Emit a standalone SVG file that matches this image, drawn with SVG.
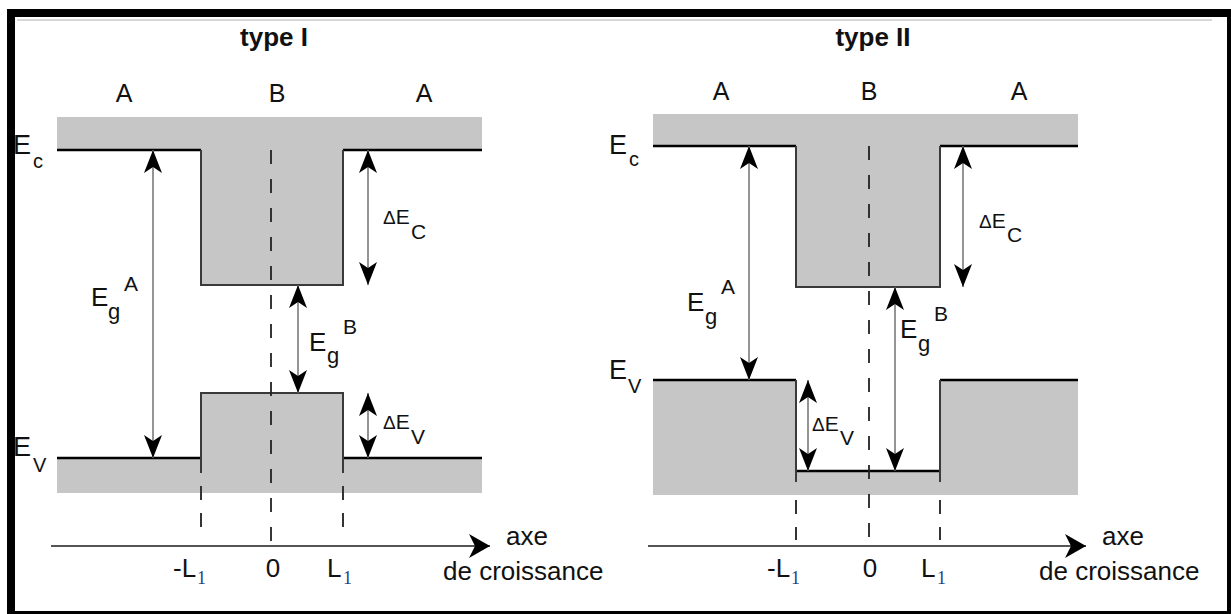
<svg xmlns="http://www.w3.org/2000/svg" width="1231" height="614" viewBox="0 0 1231 614">
<style>
text{font-family:"Liberation Sans",Arial,Helvetica,sans-serif;fill:#111}
.t{font-size:26px;font-weight:bold;text-anchor:middle}
.reg{font-size:25px;text-anchor:middle}
.E{font-size:27px}
.sub{font-size:20px}
.d{font-size:21px}
.dl{font-size:19px}
.ax{font-size:26px}
.one{font-family:"Liberation Serif","Times New Roman",serif;font-size:18px;fill:#1f3f86}
.band{fill:#c6c6c6;stroke:none}
.lvl{fill:none;stroke:#000;stroke-width:2.5}
.wall{fill:none;stroke:#3a3a3a;stroke-width:2}
.dash{fill:none;stroke:#222;stroke-width:1.8;stroke-dasharray:14 15}
.wdash{fill:none;stroke:#333;stroke-width:2;stroke-dasharray:14 13}
.arr{fill:none;stroke:#7a7a7a;stroke-width:1.6;marker-start:url(#ah);marker-end:url(#ah)}
.axis{fill:none;stroke:#555;stroke-width:1.8;marker-end:url(#ax)}
</style>
<defs>
<marker id="ah" viewBox="-25 -11 26 22" refX="0" refY="0" markerWidth="26" markerHeight="22" markerUnits="userSpaceOnUse" orient="auto-start-reverse">
<path d="M0,0 L-23,-9 L-17,0 L-23,9 Z" fill="#000"/>
</marker>
<marker id="ax" viewBox="-23 -13 24 26" refX="0" refY="0" markerWidth="24" markerHeight="26" markerUnits="userSpaceOnUse" orient="auto">
<path d="M0,0 L-21,-12 L-15,0 L-21,12 Z" fill="#000"/>
</marker>
</defs>
<rect width="1231" height="614" fill="#fff"/>
<g id="frame">
<rect x="7" y="9" width="1224" height="8" fill="#000"/>
<rect x="7" y="9" width="8" height="605" fill="#000"/>
<rect x="1227" y="9" width="4" height="605" fill="#000"/>
<rect x="7" y="611" width="1224" height="3" fill="#000"/>
<line x1="17" y1="20" x2="1212" y2="20" stroke="#d8d8d8" stroke-width="2"/>
</g>
<g id="typeI">
<text class="t" x="274" y="46">type I</text>
<text class="reg" x="124" y="102">A</text>
<text class="reg" x="277" y="102">B</text>
<text class="reg" x="424" y="102">A</text>
<path class="band" d="M57,117 H482 V150 H343 V285 H201 V150 H57 Z"/>
<path class="band" d="M57,458 H201 V393 H343 V458 H482 V493 H57 Z"/>
<path class="lvl" d="M57,150 H201 M343,150 H482"/>
<path class="wall" d="M201,150 V285 H343 V150"/>
<path class="lvl" d="M57,458 H201 M343,458 H482"/>
<path class="wall" d="M201,473 V393 H343 V473"/>
<path class="wdash" d="M201,486 V531 M343,486 V531"/>
<path class="dash" d="M271,150 V546"/>
<text class="E" x="13" y="154">E</text><text class="sub" x="33" y="168">c</text>
<text class="E" x="13" y="456">E</text><text class="sub" x="33" y="472" font-size="18">V</text>
<text x="91" y="306" font-size="26">E</text><text x="108" y="319" font-size="22">g</text><text x="124" y="291" font-size="21">A</text>
<text x="309" y="351" font-size="26">E</text><text x="327" y="363" font-size="22">g</text><text x="343" y="334" font-size="21">B</text>
<text class="d" x="383" y="224"><tspan class="dl">Δ</tspan>E</text><text class="d" x="411" y="239">C</text>
<text class="d" x="383" y="429"><tspan class="dl">Δ</tspan>E</text><text class="d" x="411" y="444">V</text>
<text class="ax" x="173" y="577">-L</text><text class="one" x="197" y="584">1</text>
<text class="ax" x="273" y="577" text-anchor="middle">0</text>
<text class="ax" x="327" y="577">L</text><text class="one" x="343" y="584">1</text>
<text class="ax" x="506" y="545">axe</text>
<text class="ax" x="443" y="580">de croissance</text>
</g>
<g id="typeII">
<text class="t" x="873" y="46">type II</text>
<text class="reg" x="721" y="100">A</text>
<text class="reg" x="869" y="100">B</text>
<text class="reg" x="1019" y="100">A</text>
<path class="band" d="M653,114 H1078 V146 H940 V287 H796 V146 H653 Z"/>
<path class="band" d="M653,380 H796 V471 H940 V380 H1078 V495 H653 Z"/>
<path class="lvl" d="M653,146 H796 M940,146 H1078"/>
<path class="wall" d="M796,146 V287 H940 V146"/>
<path class="lvl" d="M653,380 H796 M940,380 H1078 M796,471 H940"/>
<path class="wall" d="M796,380 V482 M940,380 V482"/>
<path class="wdash" d="M796,500 V540 M940,500 V540"/>
<path class="dash" d="M869,146 V546"/>
<text class="E" x="609" y="154">E</text><text class="sub" x="629" y="166">c</text>
<text class="E" x="609" y="379">E</text><text class="sub" x="628" y="393" font-size="18">V</text>
<text x="687" y="311" font-size="26">E</text><text x="705" y="324" font-size="22">g</text><text x="721" y="294" font-size="21">A</text>
<text x="900" y="338" font-size="26">E</text><text x="918" y="351" font-size="22">g</text><text x="934" y="321" font-size="21">B</text>
<text class="d" x="979" y="228"><tspan class="dl">Δ</tspan>E</text><text class="d" x="1007" y="242">C</text>
<text class="d" x="812" y="431"><tspan class="dl">Δ</tspan>E</text><text class="d" x="840" y="445">V</text>
<text class="ax" x="767" y="577">-L</text><text class="one" x="791" y="584">1</text>
<text class="ax" x="870" y="577" text-anchor="middle">0</text>
<text class="ax" x="921" y="577">L</text><text class="one" x="937" y="584">1</text>
<text class="ax" x="1102" y="545">axe</text>
<text class="ax" x="1039" y="580">de croissance</text>
</g>
<g id="connectors">
<line class="arr" x1="153" y1="150" x2="153" y2="458"/>
<line class="arr" x1="368" y1="150" x2="368" y2="285"/>
<line class="arr" x1="298" y1="285" x2="298" y2="393"/>
<line class="arr" x1="368" y1="393" x2="368" y2="458"/>
<line class="axis" x1="51" y1="546" x2="490" y2="546"/>
<line class="arr" x1="749" y1="146" x2="749" y2="380"/>
<line class="arr" x1="963" y1="146" x2="963" y2="287"/>
<line class="arr" x1="895" y1="287" x2="895" y2="471"/>
<line class="arr" x1="808" y1="380" x2="808" y2="471"/>
<line class="axis" x1="648" y1="546" x2="1086" y2="546"/>
</g>
</svg>
